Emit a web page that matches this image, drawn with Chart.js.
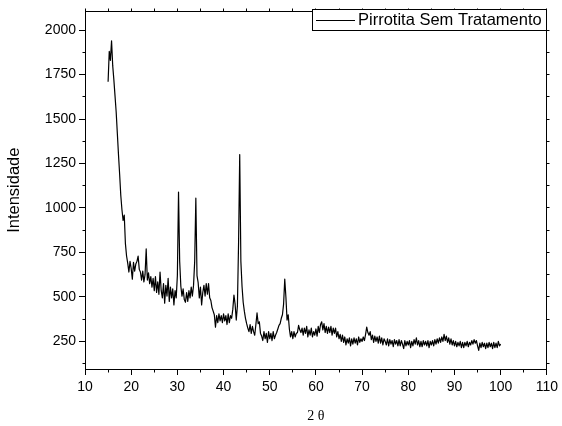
<!DOCTYPE html>
<html><head><meta charset="utf-8">
<script src="https://cdn.jsdelivr.net/npm/chart.js@4"></script>
<style>html,body{margin:0;padding:0;background:#fff}canvas{display:block}</style>
</head><body>
<canvas id="c" width="562" height="426"></canvas>
<script>
const seriesLabel = 'Pirrotita Sem Tratamento';
const xTitle = '2 θ';
const yTitle = 'Intensidade';
const angleStart = 15;
const angleStep = 0.25;
const xTickValues = [10, 20, 30, 40, 50, 60, 70, 80, 90, 100, 110];
const yTickValues = [250, 500, 750, 1000, 1250, 1500, 1750, 2000];

const int15to30 = [
 1710,1880,1830,1940,1800,1720,1630,1540,1420,1300,
 1190,1070,990,930,960,800,730,690,640,700,
 660,600,695,645,685,700,730,655,640,595,
 645,585,625,770,595,635,575,615,555,605,
 535,615,525,585,515,640,535,495,575,465,
 565,505,605,475,555,495,545,455,535,495];
const int30to45 = [
 620,1090,700,560,505,545,485,470,525,475,
 535,495,555,505,565,700,1055,620,580,495,
 555,455,525,565,505,575,515,575,495,480,
 440,420,400,330,395,355,405,365,395,355,
 405,365,395,345,405,355,395,380,430,510,
 460,370,450,800,1300,700,560,470,420,380];
const int45to60 = [
 350,325,305,345,295,335,305,285,345,410,
 350,360,295,280,255,305,265,295,245,305,
 265,295,255,305,265,285,300,320,340,350,
 380,400,460,600,500,370,400,320,275,305,
 265,305,275,295,300,340,315,300,325,285,
 325,295,335,275,315,285,325,275,305,285];
const int60to80 = [
 320,280,335,300,345,360,315,350,300,335,
 295,330,300,335,285,325,295,325,275,305,
 265,290,250,285,245,275,230,265,240,270,
 225,265,235,270,240,265,230,275,245,265,
 250,275,255,290,330,300,285,305,260,285,
 245,280,250,275,240,280,240,270,230,265,
 250,230,265,225,260,235,255,220,260,235,
 255,225,260,225,255,235,210,255,225,250];
const int80to100 = [
 230,255,215,250,225,260,235,270,230,255,
 220,250,220,255,230,250,225,255,215,250,
 230,255,225,260,235,265,240,270,245,275,
 250,290,255,280,245,270,235,265,230,255,
 225,250,220,245,225,250,215,245,215,245,
 225,250,220,245,230,255,235,260,240,255,
 225,200,240,215,245,220,240,210,240,215,
 245,220,240,210,245,215,240,215,250,225,
 235];

const intensities = [].concat(int15to30, int30to45, int45to60, int60to80, int80to100);
const points = intensities.map((v, i) => ({ x: angleStart + i * angleStep, y: v }));

const sans = 'Arial, "Liberation Sans", sans-serif';
const serif = '"Times New Roman", "Liberation Serif", serif';

function al(p) { return Math.round(p - 0.5) + 0.5; }

const framePlugin = {
  id: 'frameAndLegend',
  afterDraw(chart) {
    const { ctx, chartArea: a, scales: { x, y } } = chart;
    ctx.save();
    ctx.strokeStyle = '#000';
    ctx.lineWidth = 1;
    const L = al(a.left), R = al(a.right), T = al(a.top), B = al(a.bottom);
    ctx.beginPath();
    ctx.moveTo(L, T); ctx.lineTo(R, T); ctx.lineTo(R, B);
    for (let v = 15; v < 110; v += 10) { const px = al(x.getPixelForValue(v)); ctx.moveTo(px, B); ctx.lineTo(px, B + 3); }
    for (let v = 10; v <= 110; v += 5) { const px = al(x.getPixelForValue(v)); ctx.moveTo(px, T); ctx.lineTo(px, T - 3); }
    for (let v = 125; v <= 2105; v += 250) { const py = al(y.getPixelForValue(v)); ctx.moveTo(L, py); ctx.lineTo(L - 3, py); }
    for (let v = 125; v <= 2105; v += 125) { const py = al(y.getPixelForValue(v)); ctx.moveTo(R, py); ctx.lineTo(R + 3, py); }
    ctx.stroke();

    const ds = chart.data.datasets[0];
    const bx = 312.5, by = 9.5, bw = 234, bh = 21;
    ctx.fillStyle = '#fff';
    ctx.fillRect(bx, by, bw, bh);
    ctx.strokeRect(bx, by, bw, bh);
    ctx.beginPath();
    ctx.strokeStyle = ds.borderColor;
    ctx.moveTo(316, 20.5); ctx.lineTo(355, 20.5);
    ctx.stroke();
    ctx.fillStyle = '#000';
    ctx.font = '16.5px ' + sans;
    ctx.textBaseline = 'middle';
    ctx.textAlign = 'left';
    ctx.fillText(ds.label, 358, 20.5);
    ctx.restore();
  }
};

new Chart(document.getElementById('c'), {
  type: 'line',
  data: {
    datasets: [{
      label: seriesLabel,
      data: points,
      borderColor: '#000',
      borderWidth: 1.2,
      borderJoinStyle: 'round',
      pointRadius: 0,
      tension: 0,
      fill: false
    }]
  },
  options: {
    responsive: false,
    animation: false,
    devicePixelRatio: 1,
    layout: { padding: { top: 5, right: 13, left: 0, bottom: 0 } },
    plugins: { legend: { display: false }, tooltip: { enabled: false } },
    scales: {
      x: {
        type: 'linear', min: 10, max: 110,
        afterFit(s) { s.height = 57; },
        afterBuildTicks(s) { s.ticks = xTickValues.map(v => ({ value: v })); },
        ticks: { color: '#000', font: { family: sans, size: 14 }, padding: 4, maxRotation: 0, callback: v => String(v) },
        grid: { display: true, drawOnChartArea: false, drawTicks: true, tickLength: 6, color: '#000' },
        border: { display: true, color: '#000', width: 1 },
        title: { display: true, text: xTitle, color: '#000', font: { family: serif, size: 14 }, padding: { top: 0, bottom: 1 } }
      },
      y: {
        type: 'linear', min: 95, max: 2105,
        afterFit(s) { s.width = 85; },
        afterBuildTicks(s) { s.ticks = yTickValues.map(v => ({ value: v })); },
        ticks: { color: '#000', font: { family: sans, size: 14 }, padding: 3, callback: v => String(v) },
        grid: { display: true, drawOnChartArea: false, drawTicks: true, tickLength: 6, color: '#000' },
        border: { display: true, color: '#000', width: 1 },
        title: { display: true, text: yTitle, color: '#000', font: { family: sans, size: 16.5 }, padding: { top: 5, bottom: 0 } }
      }
    }
  },
  plugins: [framePlugin]
});
</script>
</body></html>
